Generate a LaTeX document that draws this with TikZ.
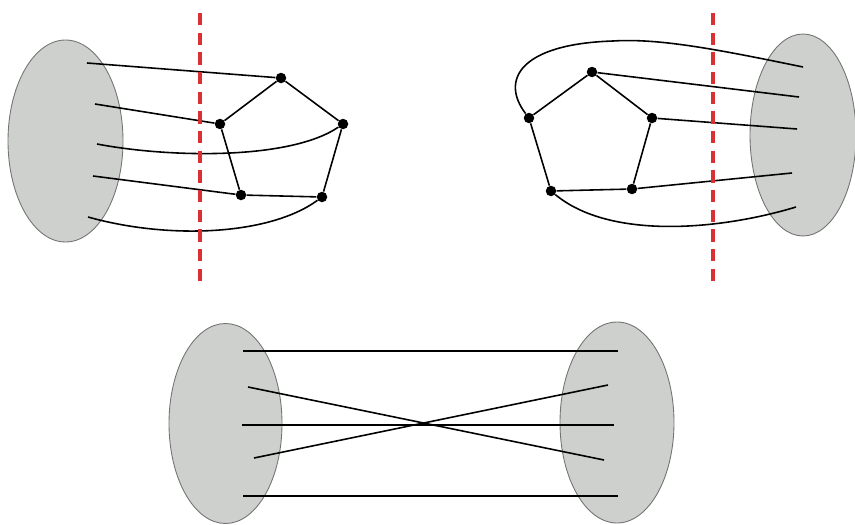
\documentclass[tikz,border=0pt]{standalone}
\usepackage{tikz}
\usetikzlibrary{positioning}
\definecolor{blobgray}{RGB}{205,208,205}
\definecolor{cutred}{RGB}{218,48,52}

\begin{document}
\begin{tikzpicture}[x=0.02cm,y=-0.02cm,
    vtx/.style={circle,fill=black,inner sep=0pt,minimum size=0.21cm},
    blob/.style={fill=blobgray,draw=black!55,line width=0.5pt},
    edge/.style={line width=0.9pt},
    bar/.style={line width=1.2pt},
    cutline/.style={cutred,line width=2pt,dash pattern=on 7pt off 4.2pt}]
  \useasboundingbox (0,0) rectangle (855,524);

  % left half
  \draw[blob] (65.5,141) ellipse [x radius=57.5,y radius=101];
  \coordinate (e1) at (87,63);  \coordinate (e2) at (95,104);
  \coordinate (e3) at (97,144); \coordinate (e4) at (93,176);
  \coordinate (e5) at (88,217);
  \node[vtx] (lt) at (281,78) {};  \node[vtx] (ll) at (220,124) {};
  \node[vtx] (lr) at (343,124) {}; \node[vtx] (lbl) at (241,195) {};
  \node[vtx] (lbr) at (322,197) {};
  \draw[edge] (lt)--(ll)--(lbl)--(lbr)--(lr)--(lt);
  \draw[edge] (e1)--(lt); \draw[edge] (e2)--(ll); \draw[edge] (e4)--(lbl);
  \draw[edge] (e3) .. controls (170,158) and (290,160) .. (lr);
  \draw[edge] (e5) .. controls (170,240) and (270,235) .. (lbr);
  \coordinate (c1a) at (200,13); \coordinate (c1b) at (200,283);
  \draw[cutline] (c1a)--(c1b);

  % right half
  \draw[blob] (803,135) ellipse [x radius=53,y radius=101];
  \coordinate (f1) at (803,67);  \coordinate (f2) at (799,97);
  \coordinate (f3) at (797,129); \coordinate (f4) at (792,173);
  \coordinate (f5) at (796,207);
  \node[vtx] (rt) at (592,72) {};  \node[vtx] (rl) at (529,118) {};
  \node[vtx] (rr) at (652,118) {}; \node[vtx] (rbl) at (551,191) {};
  \node[vtx] (rbr) at (632,189) {};
  \draw[edge] (rt)--(rl)--(rbl)--(rbr)--(rr)--(rt);
  \draw[edge] (f2)--(rt); \draw[edge] (f3)--(rr); \draw[edge] (f4)--(rbr);
  \draw[edge] (f1) .. controls (720,50) and (660,38) .. (613,41)
                   .. controls (520,44) and (500,80) .. (rl);
  \draw[edge] (f5) .. controls (720,230) and (610,240) .. (rbl);
  \coordinate (c2a) at (713,13); \coordinate (c2b) at (713,283);
  \draw[cutline] (c2a)--(c2b);

  % glued
  \draw[blob] (225.5,423.5) ellipse [x radius=56.5,y radius=100];
  \draw[blob] (617,422.5) ellipse [x radius=57,y radius=100.5];
  \coordinate (g1) at (243,351); \coordinate (h1) at (618,351);
  \coordinate (g2) at (248,387); \coordinate (h2) at (604,460);
  \coordinate (g3) at (242,425); \coordinate (h3) at (614,425);
  \coordinate (g4) at (254,458); \coordinate (h4) at (608,385);
  \coordinate (g5) at (243,496); \coordinate (h5) at (618,496);
  \foreach \i in {1,3,5} {\draw[bar] (g\i)--(h\i);}
  \foreach \i in {2,4} {\draw[edge] (g\i)--(h\i);}
\end{tikzpicture}
\end{document}
